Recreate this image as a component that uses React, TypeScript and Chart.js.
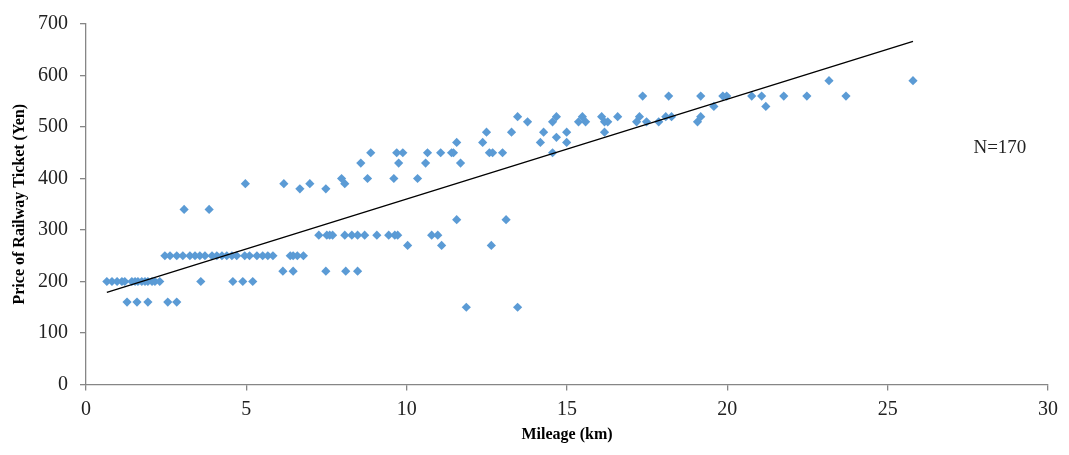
import React, { useEffect, useRef } from "react";
import { Chart, registerables } from "chart.js";

Chart.register(...registerables);

// Mileage (km) and ticket price (yen) for each observed route
const MILEAGE_KM = [
  11.86, 13.46,
  1.28, 1.59, 1.93, 2.55, 2.83,
  0.65, 0.81, 0.97, 1.12, 1.21, 1.43, 1.53, 1.62, 1.74, 1.84, 1.93, 2.06, 2.15, 2.3, 3.58, 4.58, 4.89, 5.2,
  6.14, 6.46, 7.48, 8.1, 8.47,
  2.46, 2.62, 2.83, 3.02, 3.24, 3.4, 3.55, 3.71, 3.93, 4.08, 4.24, 4.39, 4.55, 4.7, 4.95, 5.1, 5.33, 5.51, 5.67, 5.83, 6.37, 6.46, 6.59, 6.78,
  10.03, 11.09, 12.64,
  7.26, 7.51, 7.6, 7.69, 8.07, 8.29, 8.47, 8.69, 9.07, 9.44, 9.63, 9.72, 10.78, 10.97,
  11.56, 13.1,
  3.06, 3.84,
  6.67, 7.48,
  4.97, 6.17, 6.98, 8.07,
  7.97, 8.78, 9.6, 10.34,
  8.57, 9.75, 10.59, 11.68,
  8.88, 9.69, 9.88, 10.65, 11.06, 11.4, 11.46, 12.58, 12.68, 12.99, 14.55,
  11.56, 12.37, 14.17, 14.99,
  14.67,
  12.49, 13.27, 14.27, 14.99, 16.17,
  13.77, 14.55, 15.36, 15.58, 16.17, 16.27, 17.17, 17.48, 17.86, 19.07,
  13.46, 14.67, 15.48, 16.08, 16.58, 17.26, 18.08, 18.26, 19.17,
  19.58, 21.2,
  17.36, 18.17, 19.17, 19.86, 19.98, 20.76, 21.07, 21.76, 22.48, 23.7,
  23.17, 25.79,
];

const PRICE_YEN = [
  150, 150,
  160, 160, 160, 160, 160,
  200, 200, 200, 200, 200, 200, 200, 200, 200, 200, 200, 200, 200, 200, 200, 200, 200, 200,
  220, 220, 220, 220, 220,
  250, 250, 250, 250, 250, 250, 250, 250, 250, 250, 250, 250, 250, 250, 250, 250, 250, 250, 250, 250, 250, 250, 250, 250,
  270, 270, 270,
  290, 290, 290, 290, 290, 290, 290, 290, 290, 290, 290, 290, 290, 290,
  320, 320,
  340, 340,
  380, 380,
  390, 390, 390, 390,
  400, 400, 400, 400,
  430, 430, 430, 430,
  450, 450, 450, 450, 450, 450, 450, 450, 450, 450, 450,
  470, 470, 470, 470,
  480,
  490, 490, 490, 490, 490,
  510, 510, 510, 510, 510, 510, 510, 510, 510, 510,
  520, 520, 520, 520, 520, 520, 520, 520, 520,
  540, 540,
  560, 560, 560, 560, 560, 560, 560, 560, 560, 560,
  590, 590,
];

// Linear trend line (fitted): price = slope * km + intercept
const TREND_SLOPE = 19.38;
const TREND_INTERCEPT = 166.4;

const X_TICKS = [0, 5, 10, 15, 20, 25, 30];
const Y_TICKS = [0, 100, 200, 300, 400, 500, 600, 700];

const N_LABEL = "N=170";

const SERIF = "'Liberation Serif', 'Times New Roman', serif";
const AXIS_GREY = "#868686";
const MARKER_BLUE = "#5B9BD5";

export default function App() {
  const canvasRef = useRef<HTMLCanvasElement | null>(null);

  useEffect(() => {
    const canvas = canvasRef.current;
    if (!canvas) return;

    const points = MILEAGE_KM.map((x, i) => ({ x, y: PRICE_YEN[i] }));
    const xMin = Math.min(...MILEAGE_KM);
    const xMax = Math.max(...MILEAGE_KM);
    const trend = [
      { x: xMin, y: TREND_SLOPE * xMin + TREND_INTERCEPT },
      { x: xMax, y: TREND_SLOPE * xMax + TREND_INTERCEPT },
    ];

    const nLabelPlugin = {
      id: "nLabel",
      afterDraw(chart: any) {
        const { ctx, scales } = chart;
        const px = scales.x.getPixelForValue(28.5);
        const py = scales.y.getPixelForValue(460);
        ctx.save();
        ctx.font = `19px ${SERIF}`;
        ctx.fillStyle = "#222";
        ctx.textAlign = "center";
        ctx.textBaseline = "middle";
        ctx.fillText(N_LABEL, px, py);
        ctx.restore();
      },
    };

    const chart = new Chart(canvas, {
      type: "scatter",
      data: {
        datasets: [
          {
            type: "line",
            label: "Trend",
            data: trend,
            borderColor: "#000",
            borderWidth: 1.3,
            pointRadius: 0,
            fill: false,
            order: 0,
          } as any,
          {
            label: "Price",
            data: points,
            pointStyle: "rectRot",
            pointRadius: 4.6,
            pointBackgroundColor: MARKER_BLUE,
            pointBorderColor: MARKER_BLUE,
            pointBorderWidth: 0,
            order: 1,
          } as any,
        ],
      },
      options: {
        responsive: false,
        animation: false,
        devicePixelRatio: 1,
        layout: { padding: { left: 0, right: 21, top: 20, bottom: 0 } },
        plugins: {
          legend: { display: false },
          tooltip: { enabled: false },
        },
        scales: {
          x: {
            type: "linear",
            min: 0,
            max: 30,
            afterBuildTicks: (s: any) => {
              s.ticks = X_TICKS.map((v) => ({ value: v }));
            },
            afterFit: (s: any) => {
              s.height = 70.5;
            },
            border: { display: true, color: AXIS_GREY, width: 1.3 },
            grid: {
              display: true,
              drawOnChartArea: false,
              drawTicks: true,
              tickLength: 6,
              color: AXIS_GREY,
              lineWidth: 1.3,
            },
            ticks: {
              font: { family: SERIF, size: 20 },
              color: "#222",
              padding: 7,
              maxRotation: 0,
            },
            title: {
              display: true,
              text: "Mileage (km)",
              font: { family: SERIF, size: 16, weight: "bold" },
              color: "#000",
              padding: { top: 11, bottom: 11 },
            },
          },
          y: {
            type: "linear",
            min: 0,
            max: 700,
            afterBuildTicks: (s: any) => {
              s.ticks = Y_TICKS.map((v) => ({ value: v }));
            },
            afterFit: (s: any) => {
              s.width = 86;
            },
            border: { display: true, color: AXIS_GREY, width: 1.3 },
            grid: {
              display: true,
              drawOnChartArea: false,
              drawTicks: true,
              tickLength: 6,
              color: AXIS_GREY,
              lineWidth: 1.3,
            },
            ticks: {
              font: { family: SERIF, size: 20 },
              color: "#222",
              padding: 12,
            },
            title: {
              display: true,
              text: "Price of Railway Ticket (Yen)",
              font: { family: SERIF, size: 16, weight: "bold" },
              color: "#000",
              padding: { top: 10, bottom: 10 },
            },
          },
        },
      } as any,
      plugins: [nLabelPlugin],
    });

    return () => {
      chart.destroy();
    };
  }, []);

  return (
    <div
      style={{
        position: "fixed",
        left: 0,
        top: 0,
        width: 1069,
        height: 455,
        background: "#fff",
      }}
    >
      <canvas ref={canvasRef} width={1069} height={455} style={{ display: "block" }} />
    </div>
  );
}
